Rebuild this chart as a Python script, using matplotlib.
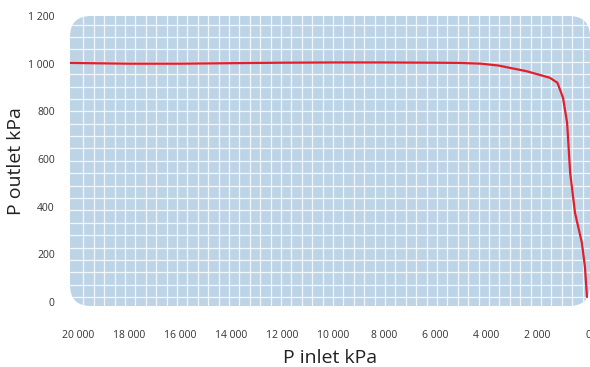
import matplotlib
matplotlib.use("Agg")
import matplotlib.pyplot as plt
from matplotlib.patches import FancyBboxPatch
from matplotlib.ticker import FuncFormatter
import numpy as np

plt.rcParams['font.family'] = ['Open Sans', 'DejaVu Sans']

# Pressure curve: inlet pressure (kPa) vs outlet pressure (kPa)
p_inlet = [20300, 18000, 16000, 14000, 12000, 10000, 8000, 6000, 5000,
           4200, 3500, 2400, 1500, 1200, 980, 820, 700, 510, 240, 120, 40]
p_outlet = [1003, 1000, 1000, 1002, 1004, 1005, 1005, 1004, 1003,
            1000, 992, 968, 941, 920, 857, 752, 542, 374, 248, 147, 21]

x_ticks = [20000, 18000, 16000, 14000, 12000, 10000, 8000, 6000, 4000, 2000, 0]
y_ticks = [0, 200, 400, 600, 800, 1000, 1200]

fig = plt.figure(figsize=(5.9, 3.67), dpi=100)
ax = fig.add_axes([70 / 590, 1 - 306 / 367, 520 / 590, 290 / 367])

x_lim = (20314, -78)
y_lim = (-17, 1200)
ax.set_xlim(*x_lim)
ax.set_ylim(*y_lim)
ax.set_facecolor('none')

# rounded plotting panel
panel = FancyBboxPatch((0, 0), 1, 1, boxstyle="round,pad=0,rounding_size=0.04",
                       transform=ax.transAxes, facecolor='#bdd4e7',
                       edgecolor='none', zorder=0,
                       mutation_aspect=520 / 290)
ax.add_patch(panel)

# fine white grid inside the panel
for gx in np.arange(19792, -200, -408):
    ln = ax.axvline(gx, color='white', lw=0.9, alpha=0.8, zorder=1)
    ln.set_clip_path(panel)
for gy in np.arange(1164, -40, -52):
    ln = ax.axhline(gy, color='white', lw=0.9, alpha=0.8, zorder=1)
    ln.set_clip_path(panel)

ax.plot(p_inlet, p_outlet, color='#e41e2b', lw=1.6, zorder=3,
        solid_joinstyle='round', solid_capstyle='round')

fmt = FuncFormatter(lambda v, p: f"{int(v):,}".replace(",", " "))
ax.set_xticks(x_ticks)
ax.set_yticks(y_ticks)
ax.xaxis.set_major_formatter(fmt)
ax.yaxis.set_major_formatter(fmt)
ax.tick_params(length=0, labelsize=7.5, colors='#333333')
ax.tick_params(axis='x', pad=17)
ax.tick_params(axis='y', pad=11)

for s in ax.spines.values():
    s.set_visible(False)

ax.set_xlabel('P inlet kPa', fontsize=14, color='#222222', labelpad=6)
ax.set_ylabel('P outlet kPa', fontsize=14, color='#222222', labelpad=2)

fig.savefig('out.png', dpi=100)
